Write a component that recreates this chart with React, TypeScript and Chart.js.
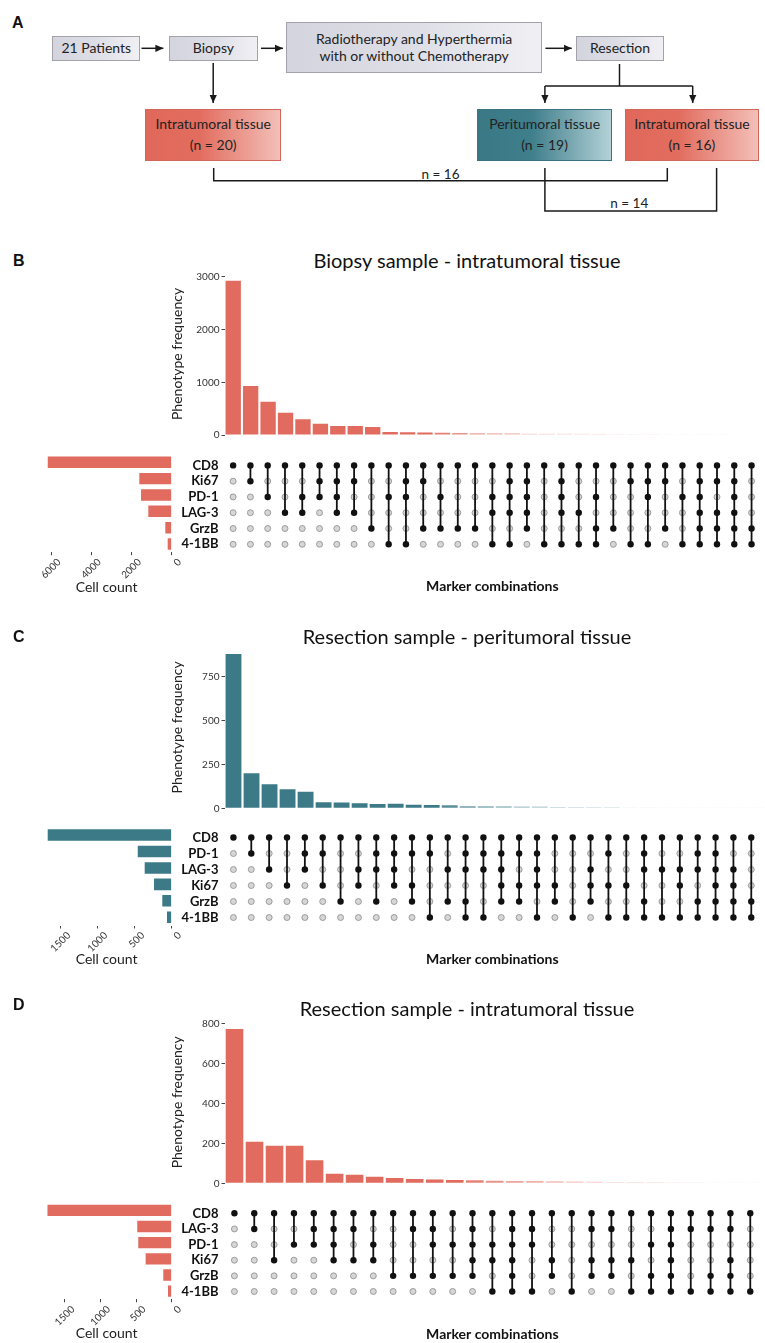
import React, { useEffect, useRef } from "react";
import { Chart, registerables } from "chart.js";

Chart.register(...registerables);

const FONT = "Lato, 'Open Sans', 'DejaVu Sans', sans-serif";
type RGB = [number, number, number];
const RED: RGB = [224, 107, 94];
const TEAL: RGB = [60, 122, 135];

// ---------------- Panel B: biopsy, intratumoral ----------------
const bTitle = "Biopsy sample - intratumoral tissue";
const bMarkers = ["CD8", "Ki67", "PD-1", "LAG-3", "GrzB", "4-1BB"];
const bSetSizes = [6169, 1612, 1527, 1164, 318, 199];
const bSetTicks = [0, 2000, 4000, 6000];
const bFrequencies = [2928, 930, 632, 423, 298, 215, 171, 170, 152, 57, 50, 48, 45, 36, 35, 34, 33, 26, 25, 24, 23, 22, 19, 18, 17, 16, 14, 13, 12, 11, 10];
const bFreqTicks = [0, 1000, 2000, 3000];
const bMatrix = [
  "1111111111111111111111111111111",
  "0100011100110000110100011101110",
  "0010111001101001110101001011010",
  "0001101100000001110110000001110",
  "0000000010011110010001100101111",
  "0000000001100001101111011011111",
];

// ---------------- Panel C: resection, peritumoral ----------------
const cTitle = "Resection sample - peritumoral tissue";
const cMarkers = ["CD8", "PD-1", "LAG-3", "Ki67", "GrzB", "4-1BB"];
const cSetSizes = [1676, 459, 365, 239, 127, 64];
const cSetTicks = [0, 500, 1000, 1500];
const cFrequencies = [877, 199, 136, 108, 94, 34, 33, 28, 24, 26, 20, 19, 18, 12, 11, 11, 10, 10, 8, 8, 7, 7, 5, 5, 4, 4, 4, 4, 4, 4];
const cFreqTicks = [0, 250, 500, 750];
const cMatrix = [
  "111111111111111111111111111111",
  "010011001111011111000101001100",
  "001010011100111101001001111110",
  "000101010110000111101110010110",
  "000000101010110110101001001111",
  "000000000001011001010111111111",
];

// ---------------- Panel D: resection, intratumoral ----------------
const dTitle = "Resection sample - intratumoral tissue";
const dMarkers = ["CD8", "LAG-3", "PD-1", "Ki67", "GrzB", "4-1BB"];
const dSetSizes = [1746, 484, 470, 366, 118, 52];
const dSetTicks = [0, 500, 1000, 1500];
const dFrequencies = [771, 208, 188, 188, 115, 48, 43, 33, 27, 22, 19, 17, 15, 13, 12, 11, 10, 9, 8, 7, 6, 6, 5, 5, 4, 4, 4];
const dFreqTicks = [0, 200, 400, 600, 800];
const dMatrix = [
  "111111111111111111111111111",
  "010011100110101100110011110",
  "000111010011111100000110000",
  "001001110000111010111010010",
  "000000001111101010110110110",
  "000000000000011101001111111",
];

const rgba = (c: RGB, a: number) => `rgba(${c[0]},${c[1]},${c[2]},${a})`;
const fadeAlpha = (i: number) => (i < 12 ? 1 : Math.max(0.12, Math.pow(0.85, i - 11)));

const AREA_LEFT = 224.5;
const PAGE_W = 765;
const SET_LEFT = 41.5;
const SET_RIGHT = 171.7;

interface PanelLayout {
  letter: string;
  letterY: number;
  titleBaseline: number;
  barTop: number;
  barBottom: number;
  rowTop: number;
  rowBottom: number;
  xTitleY: number;
  cellTitleY: number;
}

interface PanelProps {
  L: PanelLayout;
  title: string;
  markers: string[];
  setSizes: number[];
  setTicks: number[];
  setMax: number;
  freqs: number[];
  freqTicks: number[];
  freqMax: number;
  matrix: string[];
  color: RGB;
}

function UpsetPanel(p: PanelProps) {
  const topRef = useRef<HTMLCanvasElement>(null);
  const matRef = useRef<HTMLCanvasElement>(null);
  const setRef = useRef<HTMLCanvasElement>(null);
  const L = p.L;

  const topLeft = 169;
  const topTop = Math.floor(L.barTop - 10);
  const topH = Math.ceil(L.barBottom + 8 - topTop);
  const topW = PAGE_W - topLeft;

  const matLeft = 150;
  const matTop = Math.floor(L.rowTop - 9);
  const matH = Math.ceil(L.xTitleY + 11 - matTop);
  const matW = PAGE_W - matLeft;

  const setTop = matTop;
  const setH = Math.ceil(L.cellTitleY + 11 - setTop);
  const setW = Math.ceil(SET_RIGHT + 16);

  useEffect(() => {
    const charts: Chart[] = [];
    const n = p.freqs.length;

    charts.push(
      new Chart(topRef.current!, {
        type: "bar",
        data: {
          labels: p.freqs.map((_, i) => `${i + 1}`),
          datasets: [
            {
              data: p.freqs,
              backgroundColor: p.freqs.map((_, i) => rgba(p.color, fadeAlpha(i))),
              borderWidth: 0,
              barPercentage: 0.88,
              categoryPercentage: 1,
            },
          ],
        },
        options: {
          animation: false,
          responsive: false,
          maintainAspectRatio: false,
          events: [],
          layout: { padding: { top: L.barTop - topTop, bottom: topTop + topH - L.barBottom, left: 0, right: 0 } },
          plugins: { legend: { display: false }, tooltip: { enabled: false } },
          scales: {
            x: { display: false },
            y: {
              min: 0,
              max: p.freqMax,
              afterBuildTicks: (s: any) => {
                s.ticks = p.freqTicks.map((v) => ({ value: v }));
              },
              afterFit: (s: any) => {
                s.width = AREA_LEFT - topLeft;
              },
              ticks: { callback: (v: any) => String(v), font: { family: FONT, size: 10 }, color: "#333", padding: 2, autoSkip: false },
              grid: { drawOnChartArea: false, tickLength: 3, color: "#444" },
              border: { display: false },
              title: {
                display: true,
                text: "Phenotype frequency",
                font: { family: FONT, size: 14 },
                color: "#222",
                padding: { top: 0, bottom: 0 },
              },
            },
          },
        },
      } as any)
    );

    const gray: { x: number; y: number }[] = [];
    const black: { x: number; y: number }[] = [];
    const lines: any[] = [];
    for (let c = 0; c < n; c++) {
      const filled: number[] = [];
      p.matrix.forEach((row, r) => {
        if (row[c] === "1") {
          black.push({ x: c, y: r });
          filled.push(r);
        } else gray.push({ x: c, y: r });
      });
      if (filled.length > 1) {
        lines.push({
          data: [
            { x: c, y: Math.min(...filled) },
            { x: c, y: Math.max(...filled) },
          ],
          showLine: true,
          borderColor: "#111",
          borderWidth: 1.8,
          pointRadius: 0,
          order: 2,
        });
      }
    }

    charts.push(
      new Chart(matRef.current!, {
        type: "scatter",
        data: {
          datasets: [
            {
              data: gray,
              pointRadius: 3,
              pointBackgroundColor: "#d6d6d6",
              pointBorderColor: "#8a8a8a",
              pointBorderWidth: 0.8,
              order: 3,
            },
            ...lines,
            {
              data: black,
              pointRadius: 3.2,
              pointBackgroundColor: "#111",
              pointBorderColor: "#111",
              pointBorderWidth: 0,
              order: 1,
            },
          ],
        },
        options: {
          animation: false,
          responsive: false,
          maintainAspectRatio: false,
          events: [],
          layout: { padding: { top: L.rowTop - matTop, left: 0, right: 0, bottom: 0 } },
          plugins: { legend: { display: false }, tooltip: { enabled: false } },
          scales: {
            x: {
              type: "linear",
              min: -0.5,
              max: n - 0.5,
              ticks: { display: false },
              grid: { display: false, drawTicks: false, tickLength: 0 },
              border: { display: false },
              title: {
                display: true,
                text: "Marker combinations",
                font: { family: FONT, size: 14, weight: "bold" },
                color: "#111",
                padding: { top: 0, bottom: matTop + matH - 8.4 - L.xTitleY },
              },
              afterFit: (s: any) => {
                s.height = matTop + matH - L.rowBottom;
              },
            },
            y: {
              type: "linear",
              min: -0.5,
              max: p.markers.length - 0.5,
              reverse: true,
              afterBuildTicks: (s: any) => {
                s.ticks = p.markers.map((_, i) => ({ value: i }));
              },
              ticks: {
                callback: (v: any) => p.markers[v] ?? "",
                font: { family: FONT, size: 13, weight: "bold", lineHeight: 1 },
                color: "#111",
                padding: 6,
                autoSkip: false,
              },
              grid: { display: false, drawTicks: false, tickLength: 0 },
              border: { display: false },
              afterFit: (s: any) => {
                s.width = AREA_LEFT - matLeft;
              },
            },
          },
        },
      } as any)
    );

    charts.push(
      new Chart(setRef.current!, {
        type: "bar",
        data: {
          labels: p.markers,
          datasets: [
            {
              data: p.setSizes,
              backgroundColor: rgba(p.color, 1),
              borderWidth: 0,
              barPercentage: 0.7,
              categoryPercentage: 1,
            },
          ],
        },
        options: {
          indexAxis: "y",
          animation: false,
          responsive: false,
          maintainAspectRatio: false,
          events: [],
          layout: { padding: { left: SET_LEFT, right: setW - SET_RIGHT, top: L.rowTop - setTop, bottom: 0 } },
          plugins: { legend: { display: false }, tooltip: { enabled: false } },
          scales: {
            y: { display: false },
            x: {
              reverse: true,
              min: 0,
              max: p.setMax,
              afterBuildTicks: (s: any) => {
                s.ticks = p.setTicks.map((v) => ({ value: v }));
              },
              afterFit: (s: any) => {
                s.height = setTop + setH - L.rowBottom;
              },
              ticks: {
                callback: (v: any) => String(v),
                minRotation: 45,
                maxRotation: 45,
                font: { family: FONT, size: 10 },
                color: "#333",
                padding: 1,
                labelOffset: 8,
                autoSkip: false,
              },
              grid: { drawOnChartArea: false, tickLength: 3, color: "#444" },
              border: { display: false },
              title: {
                display: true,
                text: "Cell count",
                font: { family: FONT, size: 14 },
                color: "#222",
                padding: { top: 0, bottom: setTop + setH - 8.4 - L.cellTitleY },
              },
            },
          },
        },
      } as any)
    );

    return () => charts.forEach((c) => c.destroy());
  }, []);

  return (
    <>
      <div
        style={{
          position: "absolute",
          left: 13,
          top: L.letterY - 10,
          fontFamily: "'Liberation Sans', Arial, sans-serif",
          fontWeight: "bold",
          fontSize: 16,
          lineHeight: "20px",
          color: "#111",
        }}
      >
        {L.letter}
      </div>
      <div
        style={{
          position: "absolute",
          left: topLeft - 100,
          width: topW + 200,
          top: L.titleBaseline - 19.74,
          textAlign: "center",
          fontFamily: FONT,
          fontSize: 20,
          lineHeight: "24px",
          color: "#111",
          whiteSpace: "nowrap",
        }}
      >
        {p.title}
      </div>
      <canvas ref={topRef} width={topW} height={topH} style={{ position: "absolute", left: topLeft, top: topTop }} />
      <canvas ref={matRef} width={matW} height={matH} style={{ position: "absolute", left: matLeft, top: matTop }} />
      <canvas ref={setRef} width={setW} height={setH} style={{ position: "absolute", left: 0, top: setTop }} />
    </>
  );
}

// ---------------- Panel A: study flowchart ----------------
const GRAY_BG = "linear-gradient(to right, #d4d4de 0%, #dedee7 50%, #f0f0f4 100%)";
const RED_BG = "linear-gradient(to right, #e0685a 0%, #e26d5f 40%, #f3bfb8 100%)";
const TEAL_BG = "linear-gradient(to right, #3a7886 0%, #3f7e8b 40%, #b3d1d7 100%)";

interface FlowBox {
  x: number;
  y: number;
  w: number;
  h: number;
  lines: string[];
  bg: string;
  border: string;
  lh: number;
}

const flowBoxes: FlowBox[] = [
  { x: 52.2, y: 35.7, w: 88.3, h: 25, lines: ["21 Patients"], bg: GRAY_BG, border: "#a2a2a8", lh: 18 },
  { x: 169.3, y: 35.7, w: 88.3, h: 25, lines: ["Biopsy"], bg: GRAY_BG, border: "#a2a2a8", lh: 18 },
  {
    x: 285.9,
    y: 22,
    w: 256.5,
    h: 51.3,
    lines: ["Radiotherapy and Hyperthermia", "with or without Chemotherapy"],
    bg: GRAY_BG,
    border: "#a2a2a8",
    lh: 16.7,
  },
  { x: 576.1, y: 35.7, w: 87.8, h: 25, lines: ["Resection"], bg: GRAY_BG, border: "#a2a2a8", lh: 18 },
  { x: 145.4, y: 109, w: 135.6, h: 51.7, lines: ["Intratumoral tissue", "(n = 20)"], bg: RED_BG, border: "#d0675a", lh: 20.7 },
  { x: 477, y: 109, w: 135.2, h: 51.7, lines: ["Peritumoral tissue", "(n = 19)"], bg: TEAL_BG, border: "#3b7480", lh: 20.7 },
  { x: 624.9, y: 109, w: 134.1, h: 51.7, lines: ["Intratumoral tissue", "(n = 16)"], bg: RED_BG, border: "#d0675a", lh: 20.7 },
];

function FlowChart() {
  const stroke = "#1a1a1a";
  return (
    <>
      <div
        style={{
          position: "absolute",
          left: 12,
          top: 13,
          fontFamily: "'Liberation Sans', Arial, sans-serif",
          fontWeight: "bold",
          fontSize: 16,
          lineHeight: "20px",
          color: "#111",
        }}
      >
        A
      </div>
      {flowBoxes.map((b, i) => (
        <div
          key={i}
          style={{
            position: "absolute",
            left: b.x,
            top: b.y,
            width: b.w,
            height: b.h,
            boxSizing: "border-box",
            background: b.bg,
            border: `1px solid ${b.border}`,
            display: "flex",
            flexDirection: "column",
            alignItems: "center",
            justifyContent: "center",
            fontFamily: FONT,
            fontSize: 14,
            lineHeight: `${b.lh}px`,
            color: "#222",
            whiteSpace: "nowrap",
          }}
        >
          {b.lines.map((t, j) => (
            <div key={j}>{t}</div>
          ))}
        </div>
      ))}
      <svg
        width={765}
        height={230}
        style={{ position: "absolute", left: 0, top: 0, overflow: "visible" }}
      >
        <defs>
          <marker
            id="ah"
            viewBox="0 0 10 10"
            refX="10"
            refY="5"
            markerWidth="8"
            markerHeight="8"
            markerUnits="userSpaceOnUse"
            orient="auto"
          >
            <path d="M0,0.5 L10,5 L0,9.5 z" fill={stroke} />
          </marker>
        </defs>
        <g stroke={stroke} strokeWidth={1.5} fill="none">
          <line x1={141.5} y1={48.3} x2={163.4} y2={48.3} markerEnd="url(#ah)" />
          <line x1={261} y1={48.3} x2={283} y2={48.3} markerEnd="url(#ah)" />
          <line x1={545.4} y1={48.3} x2={571.7} y2={48.3} markerEnd="url(#ah)" />
          <line x1={213.2} y1={63} x2={213.2} y2={103} markerEnd="url(#ah)" />
          <polyline points="619.5,64 619.5,86" />
          <polyline points="544.9,86 692.7,86" />
          <line x1={544.9} y1={86} x2={544.9} y2={103} markerEnd="url(#ah)" />
          <line x1={692.7} y1={86} x2={692.7} y2={103} markerEnd="url(#ah)" />
          <polyline points="213.7,168 213.7,180.7 667.3,180.7 667.3,168" />
          <polyline points="544.9,168 544.9,211 716.6,211 716.6,168" />
        </g>
        <text x={440.5} y={174} textAnchor="middle" dominantBaseline="central" fontFamily={FONT} fontSize={13.5} fill="#222">
          n = 16
        </text>
        <text x={629.3} y={203.3} textAnchor="middle" dominantBaseline="central" fontFamily={FONT} fontSize={13.5} fill="#222">
          n = 14
        </text>
      </svg>
    </>
  );
}

const layoutB: PanelLayout = {
  letter: "B",
  letterY: 261,
  titleBaseline: 268,
  barTop: 272.9,
  barBottom: 435,
  rowTop: 454.1,
  rowBottom: 552.2,
  xTitleY: 586,
  cellTitleY: 587,
};
const layoutC: PanelLayout = {
  letter: "C",
  letterY: 637,
  titleBaseline: 644,
  barTop: 646.4,
  barBottom: 808.3,
  rowTop: 826.8,
  rowBottom: 925.5,
  xTitleY: 959,
  cellTitleY: 959.3,
};
const layoutD: PanelLayout = {
  letter: "D",
  letterY: 1004.5,
  titleBaseline: 1016,
  barTop: 1021.3,
  barBottom: 1183.3,
  rowTop: 1202.2,
  rowBottom: 1299.3,
  xTitleY: 1334,
  cellTitleY: 1333,
};

export default function App() {
  return (
    <div
      style={{
        position: "absolute",
        left: 0,
        top: 0,
        width: 765,
        height: 1343,
        overflow: "hidden",
        background: "#fff",
        fontFamily: FONT,
      }}
    >
      <FlowChart />
      <UpsetPanel
        L={layoutB}
        title={bTitle}
        markers={bMarkers}
        setSizes={bSetSizes}
        setTicks={bSetTicks}
        setMax={6480}
        freqs={bFrequencies}
        freqTicks={bFreqTicks}
        freqMax={3075}
        matrix={bMatrix}
        color={RED}
      />
      <UpsetPanel
        L={layoutC}
        title={cTitle}
        markers={cMarkers}
        setSizes={cSetSizes}
        setTicks={cSetTicks}
        setMax={1760}
        freqs={cFrequencies}
        freqTicks={cFreqTicks}
        freqMax={920}
        matrix={cMatrix}
        color={TEAL}
      />
      <UpsetPanel
        L={layoutD}
        title={dTitle}
        markers={dMarkers}
        setSizes={dSetSizes}
        setTicks={dSetTicks}
        setMax={1830}
        freqs={dFrequencies}
        freqTicks={dFreqTicks}
        freqMax={810}
        matrix={dMatrix}
        color={RED}
      />
    </div>
  );
}
